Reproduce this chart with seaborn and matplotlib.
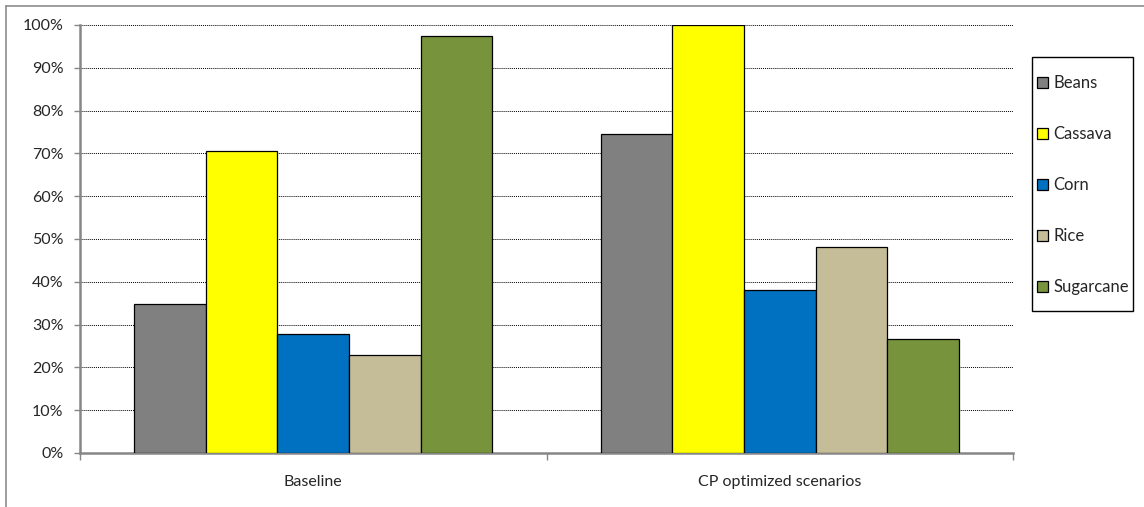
import matplotlib
matplotlib.use("Agg")
import matplotlib.pyplot as plt
import matplotlib.patches as mpatches
from matplotlib.lines import Line2D
from matplotlib.ticker import PercentFormatter, FixedLocator
import seaborn as sns
import pandas as pd

# Share of each crop, per scenario
scenarios = ["Baseline", "CP optimized scenarios"]
crops = ["Beans", "Cassava", "Corn", "Rice", "Sugarcane"]
baseline = [0.348, 0.705, 0.277, 0.229, 0.975]
cp_optimized = [0.746, 1.000, 0.382, 0.482, 0.267]
crop_colors = ["#808080", "#FFFF00", "#0070C0", "#C4BD97", "#77933C"]
y_ticks = [0.0, 0.1, 0.2, 0.3, 0.4, 0.5, 0.6, 0.7, 0.8, 0.9, 1.0]

rows = []
for scen, vals in zip(scenarios, [baseline, cp_optimized]):
    for crop, v in zip(crops, vals):
        rows.append({"Scenario": scen, "Crop": crop, "Share": v})
df = pd.DataFrame(rows)

sns.set_style("white")
plt.rcParams["font.family"] = ["Lato", "DejaVu Sans"]

W, H = 1144, 507
fig = plt.figure(figsize=(W / 100, H / 100), dpi=100)
ax = fig.add_axes([80 / W, 1 - 453 / H, (1013 - 80) / W, (453 - 25) / H])

sns.barplot(data=df, x="Scenario", y="Share", hue="Crop", order=scenarios,
            hue_order=crops, palette=crop_colors, width=0.767, saturation=1,
            edgecolor="black", linewidth=0.9, ax=ax, legend=False, zorder=3)

ax.set_xlim(-0.5, 1.5)
ax.set_ylim(0, 1.0)
ax.yaxis.set_major_locator(FixedLocator(y_ticks))
ax.yaxis.set_major_formatter(PercentFormatter(1.0, decimals=0))
ax.grid(axis="y", color="black", linestyle=(0, (1, 1)), linewidth=0.7, zorder=0)
ax.set_axisbelow(True)

for side in ["top", "right"]:
    ax.spines[side].set_visible(False)
for side in ["left", "bottom"]:
    ax.spines[side].set_color("#868686")
    ax.spines[side].set_linewidth(1.8)

ax.tick_params(axis="y", which="major", direction="out", length=4, width=1,
               color="#868686", labelsize=11.5, pad=8, left=True)
ax.tick_params(axis="x", which="major", length=0, labelsize=11.5, pad=16)
ax.set_xticks([-0.5, 0.5, 1.5], minor=True)
ax.tick_params(axis="x", which="minor", direction="out", length=5, width=1,
               color="#868686", bottom=True)
ax.set_xlabel("")
ax.set_ylabel("")

# Legend frame drawn as its own box, entries centred inside it
box_l, box_t, box_r, box_b = 1032, 57, 1133, 311
fig.add_artist(mpatches.Rectangle((box_l / W, 1 - box_b / H),
                                  (box_r - box_l) / W, (box_b - box_t) / H,
                                  transform=fig.transFigure, fill=False,
                                  edgecolor="black", linewidth=1.0))
handles = [mpatches.Patch(facecolor=c, edgecolor="black", linewidth=0.9)
           for c in crop_colors]
leg = fig.legend(handles, crops, loc="center left",
                 bbox_to_anchor=(1037 / W, 1 - 185 / H),
                 frameon=False, fontsize=12,
                 handlelength=0.65, handleheight=0.65, handletextpad=0.35,
                 labelspacing=2.1, borderpad=0, borderaxespad=0)

# Outer chart border
fig.add_artist(Line2D([6 / W, 6 / W], [0, 1 - 6 / H],
                      transform=fig.transFigure, color="#8c8c8c", linewidth=1.2))
fig.add_artist(Line2D([6 / W, 1], [1 - 6 / H, 1 - 6 / H],
                      transform=fig.transFigure, color="#8c8c8c", linewidth=1.2))

fig.savefig("out.png", dpi=100)
